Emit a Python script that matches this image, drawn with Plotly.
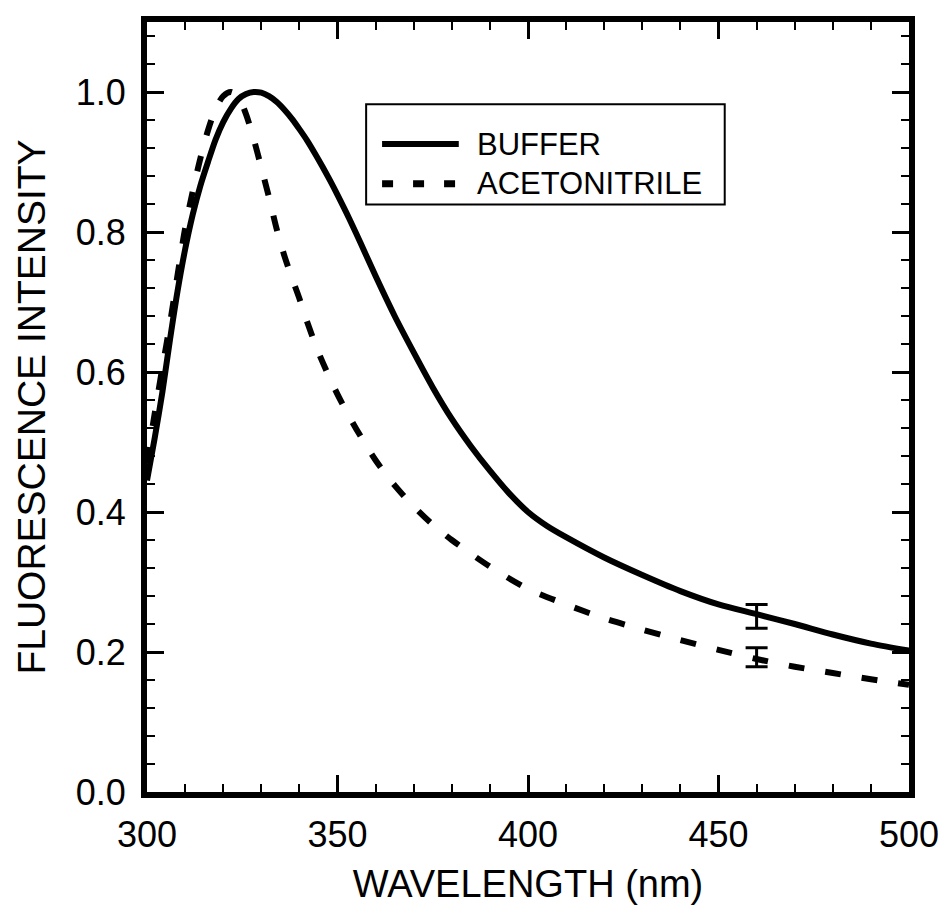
import plotly.graph_objects as go

# ---- data ----
wavelength_buffer = [300, 302, 304, 306, 308, 310, 312, 314, 316, 318, 320, 322, 324, 326, 328,
                     330, 332, 334, 336, 338, 340, 342, 344, 346, 348, 350, 353, 356, 360, 365,
                     370, 375, 380, 385, 390, 395, 400, 405, 410, 420, 430, 440, 450, 460, 470,
                     480, 490, 500]
intensity_buffer = [0.445, 0.505, 0.57, 0.645, 0.715, 0.775, 0.825, 0.866, 0.90, 0.932, 0.957, 0.976,
                    0.99, 0.997, 1.0, 0.999, 0.994, 0.986, 0.975, 0.962, 0.947, 0.931, 0.913, 0.894,
                    0.874, 0.853, 0.82, 0.785, 0.737, 0.68, 0.628, 0.578, 0.533, 0.494, 0.459, 0.427,
                    0.40, 0.38, 0.364, 0.335, 0.31, 0.287, 0.268, 0.254, 0.24, 0.225, 0.212, 0.202]

wavelength_acn = [300, 302, 304, 306, 308, 310, 312, 314, 316, 318, 320, 322, 324, 326, 328, 330,
                  332, 334, 336, 338, 340, 342, 345, 350, 355, 360, 365, 370, 375, 380, 390, 400,
                  410, 420, 430, 440, 450, 460, 470, 480, 490, 500]
intensity_acn = [0.47, 0.54, 0.605, 0.668, 0.738, 0.805, 0.858, 0.905, 0.945, 0.976, 0.994, 1.0, 0.993,
                 0.968, 0.933, 0.892, 0.85, 0.805, 0.767, 0.735, 0.705, 0.672, 0.628, 0.568, 0.518,
                 0.474, 0.438, 0.408, 0.382, 0.36, 0.322, 0.29, 0.268, 0.248, 0.232, 0.217, 0.203,
                 0.19, 0.179, 0.17, 0.161, 0.153]

err_x = [460]
buffer_err_y = [0.251]
buffer_err = [0.017]
acn_err_y = [0.1925]
acn_err = [0.0135]

legend_labels = ["BUFFER", "ACETONITRILE"]

FONT = "Liberation Sans, Arial, sans-serif"

fig = go.Figure()
fig.add_trace(go.Scatter(x=wavelength_buffer, y=intensity_buffer, mode="lines",
                         line=dict(color="black", width=6, shape="spline", smoothing=0.8),
                         name=legend_labels[0], showlegend=False))
fig.add_trace(go.Scatter(x=wavelength_acn, y=intensity_acn, mode="lines",
                         line=dict(color="black", width=6, dash="16px,21px", shape="spline", smoothing=0.8),
                         name=legend_labels[1], showlegend=False))
fig.add_trace(go.Scatter(x=err_x, y=buffer_err_y, mode="markers",
                         marker=dict(size=1, color="rgba(0,0,0,0)"),
                         error_y=dict(type="data", array=buffer_err, color="black", thickness=3, width=11),
                         showlegend=False))
fig.add_trace(go.Scatter(x=err_x, y=acn_err_y, mode="markers",
                         marker=dict(size=1, color="rgba(0,0,0,0)"),
                         error_y=dict(type="data", array=acn_err, color="black", thickness=3, width=11),
                         showlegend=False))

# The html page has an 8px body margin; compensate so the plot area lands at
# x 147..912, y 16..792 of the window.
PAGE = 8
W, H = 947 - PAGE, 918 - PAGE
L, R, T, B = 147 - PAGE, 912 - PAGE, 16 - PAGE, 792 - PAGE


def px(xp):  # window x pixel -> paper
    return (xp - PAGE - L) / (R - L)


def py(yp):  # window y pixel -> paper
    return (B - (yp - PAGE)) / (B - T)


# ---- hand-drawn legend (box, line samples, labels) in paper coordinates ----
fig.add_shape(type="rect", xref="paper", yref="paper",
              x0=px(367), x1=px(727), y0=py(99), y1=py(200),
              line=dict(color="black", width=2), fillcolor="white", layer="below")
fig.add_shape(type="line", xref="paper", yref="paper",
              x0=px(383), x1=px(460), y0=py(139), y1=py(139),
              line=dict(color="black", width=6))
fig.add_shape(type="line", xref="paper", yref="paper",
              x0=px(383), x1=px(462), y0=py(179), y1=py(179),
              line=dict(color="black", width=7, dash="11px,20px"))
for lab, yy in zip(legend_labels, [139, 179]):
    fig.add_annotation(text=lab, xref="paper", yref="paper", x=px(476), y=py(yy),
                       xanchor="left", yanchor="middle", showarrow=False,
                       font=dict(family=FONT, size=31, color="black"))

fig.update_layout(
    width=W, height=H,
    margin=dict(l=L, r=W - R, t=T, b=H - B),
    paper_bgcolor="white", plot_bgcolor="white",
    font=dict(family=FONT, color="black"),
    showlegend=False,
)
fig.update_xaxes(
    range=[300, 500], dtick=50, tick0=300,
    showline=True, linewidth=6, linecolor="black", mirror="allticks",
    ticks="inside", ticklen=17, tickwidth=2.5, tickcolor="black",
    minor=dict(dtick=10, ticks="inside", ticklen=8, tickwidth=2, tickcolor="black"),
    showgrid=False, zeroline=False,
    tickfont=dict(family=FONT, size=36, color="black"),
    ticklabelstandoff=6,
    title=dict(text="WAVELENGTH (nm)", font=dict(family=FONT, size=38, color="black"), standoff=18),
)
fig.update_yaxes(
    range=[0, 1.1], dtick=0.2, tick0=0, tickformat=".1f",
    showline=True, linewidth=6, linecolor="black", mirror="allticks",
    ticks="inside", ticklen=17, tickwidth=2.5, tickcolor="black",
    minor=dict(dtick=0.04, ticks="inside", ticklen=8, tickwidth=2, tickcolor="black"),
    showgrid=False, zeroline=False,
    tickfont=dict(family=FONT, size=36, color="black"),
    ticklabelstandoff=8,
    title=dict(text="FLUORESCENCE INTENSITY", font=dict(family=FONT, size=39, color="black"), standoff=20),
)

fig.write_html("out.html")
